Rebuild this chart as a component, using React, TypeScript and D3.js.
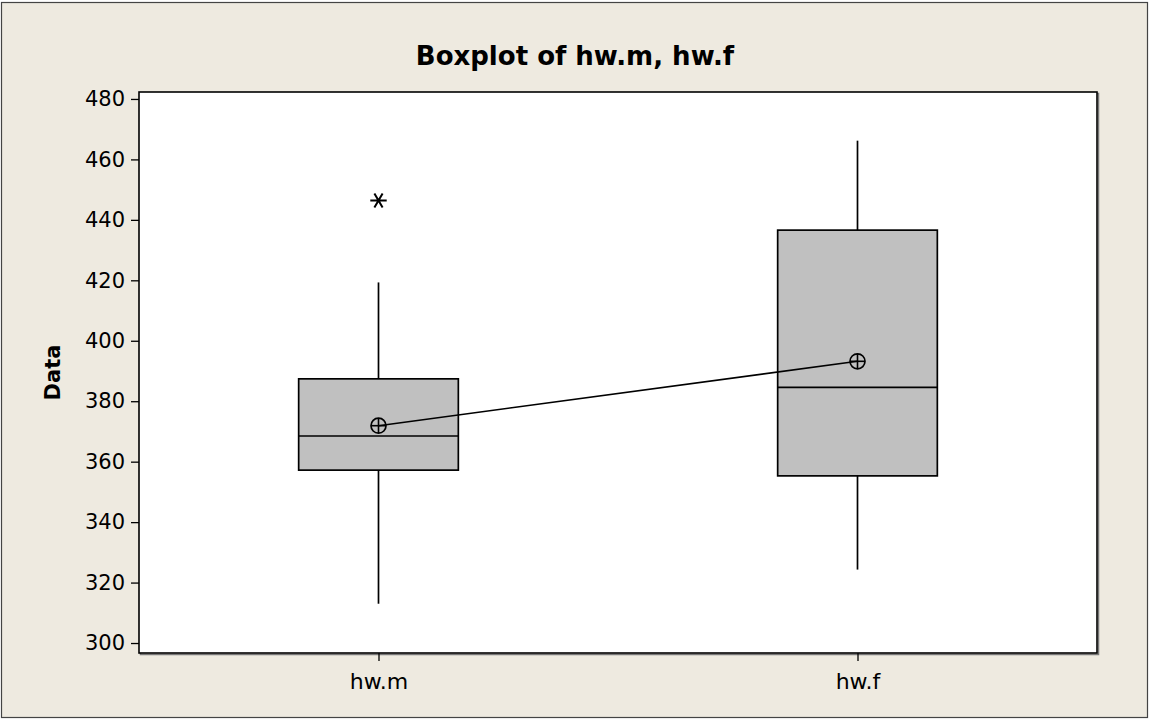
import React, { useEffect, useRef } from 'react';
import * as d3 from 'd3';

// box summary values
const categories = ['hw.m', 'hw.f'];
const q1 = [357.2, 355.3];
const median = [368.5, 384.6];
const q3 = [387.4, 436.6];
const whiskerLow = [313.0, 324.3];
const whiskerHigh = [419.3, 466.2];
const means = [371.9, 393.2];
const outliers = [[446.4], []];
const yTicks = [300, 320, 340, 360, 380, 400, 420, 440, 460, 480];

const W = 1150;
const H = 719;
const plot = { left: 139, top: 92, right: 1097, bottom: 653 };
const font = '"DejaVu Sans", Verdana, sans-serif';

export default function App() {
    const ref = useRef<SVGSVGElement>(null);

    useEffect(() => {
        const svg = d3.select(ref.current);
        svg.selectAll('*').remove();

        const x = d3.scalePoint().domain(categories).range([plot.left, plot.right]).padding(0.5);
        const y = d3.scaleLinear().domain([296.7, 482.3]).range([plot.bottom, plot.top]);
        const boxW = x.step() / 3;

        // page background + outer frame
        svg.append('rect')
            .attr('x', 1.5).attr('y', 2.5)
            .attr('width', W - 4).attr('height', H - 4)
            .attr('fill', '#eeeae0')
            .attr('stroke', '#444')
            .attr('stroke-width', 1.2);

        // plot area with shadow
        svg.append('rect')
            .attr('x', plot.left + 1.5).attr('y', plot.top + 1.5)
            .attr('width', plot.right - plot.left).attr('height', plot.bottom - plot.top)
            .attr('fill', 'none').attr('stroke', '#777').attr('stroke-width', 1.5);
        svg.append('rect')
            .attr('x', plot.left).attr('y', plot.top)
            .attr('width', plot.right - plot.left).attr('height', plot.bottom - plot.top)
            .attr('fill', '#fff').attr('stroke', '#000').attr('stroke-width', 1.6);

        // title
        svg.append('text')
            .attr('x', W / 2).attr('y', 65)
            .attr('text-anchor', 'middle')
            .style('font-family', font).style('font-size', '26px').style('font-weight', 'bold')
            .text('Boxplot of hw.m, hw.f');

        // y axis
        const yAxis = svg.append('g')
            .attr('transform', `translate(${plot.left},0)`)
            .call(d3.axisLeft(y).tickValues(yTicks).tickSize(8).tickPadding(6).tickFormat(d3.format('d')));
        yAxis.select('.domain').remove();
        yAxis.selectAll('line').attr('stroke', '#000').attr('stroke-width', 1.3);
        yAxis.selectAll('text').style('font-family', font).style('font-size', '21px').attr('fill', '#000');

        // x axis
        const xAxis = svg.append('g')
            .attr('transform', `translate(0,${plot.bottom})`)
            .call(d3.axisBottom(x).tickSize(8).tickPadding(12));
        xAxis.select('.domain').remove();
        xAxis.selectAll('line').attr('stroke', '#000').attr('stroke-width', 1.3);
        xAxis.selectAll('text').style('font-family', font).style('font-size', '22px').attr('fill', '#000');

        // y label
        svg.append('text')
            .attr('transform', `translate(60,${(plot.top + plot.bottom) / 2}) rotate(-90)`)
            .attr('text-anchor', 'middle')
            .style('font-family', font).style('font-size', '21px').style('font-weight', 'bold')
            .text('Data');

        const g = svg.append('g');
        categories.forEach((c, i) => {
            const cx = x(c)!;
            // whiskers
            g.append('line')
                .attr('x1', cx).attr('x2', cx)
                .attr('y1', y(q3[i])).attr('y2', y(whiskerHigh[i]))
                .attr('stroke', '#000').attr('stroke-width', 1.7);
            g.append('line')
                .attr('x1', cx).attr('x2', cx)
                .attr('y1', y(q1[i])).attr('y2', y(whiskerLow[i]))
                .attr('stroke', '#000').attr('stroke-width', 1.7);
            // box
            g.append('rect')
                .attr('x', cx - boxW / 2).attr('y', y(q3[i]))
                .attr('width', boxW).attr('height', y(q1[i]) - y(q3[i]))
                .attr('fill', '#c0c0c0').attr('stroke', '#000').attr('stroke-width', 1.7);
            // median
            g.append('line')
                .attr('x1', cx - boxW / 2).attr('x2', cx + boxW / 2)
                .attr('y1', y(median[i])).attr('y2', y(median[i]))
                .attr('stroke', '#000').attr('stroke-width', 1.7);
            // outliers
            outliers[i].forEach(v => {
                g.append('path')
                    .attr('transform', `translate(${cx},${y(v)}) rotate(90)`)
                    .attr('d', d3.symbol().type(d3.symbolAsterisk).size(190)())
                    .attr('fill', 'none').attr('stroke', '#000').attr('stroke-width', 2);
            });
        });

        // mean connect line
        const line = d3.line<number>().x((d, i) => x(categories[i])!).y(d => y(d));
        g.append('path').datum(means).attr('d', line)
            .attr('fill', 'none').attr('stroke', '#000').attr('stroke-width', 1.6);

        // mean symbols (circle with cross)
        means.forEach((m, i) => {
            const cx = x(categories[i])!;
            const cy = y(m);
            const r = 7.5;
            g.append('circle').attr('cx', cx).attr('cy', cy).attr('r', r)
                .attr('fill', 'none').attr('stroke', '#000').attr('stroke-width', 1.7);
            g.append('line').attr('x1', cx - r).attr('x2', cx + r).attr('y1', cy).attr('y2', cy)
                .attr('stroke', '#000').attr('stroke-width', 1.6);
            g.append('line').attr('x1', cx).attr('x2', cx).attr('y1', cy - r).attr('y2', cy + r)
                .attr('stroke', '#000').attr('stroke-width', 1.6);
        });
    }, []);

    return (
        <svg ref={ref} width={W} height={H}
            style={{ position: 'absolute', left: 0, top: 0, display: 'block' }} />
    );
}
